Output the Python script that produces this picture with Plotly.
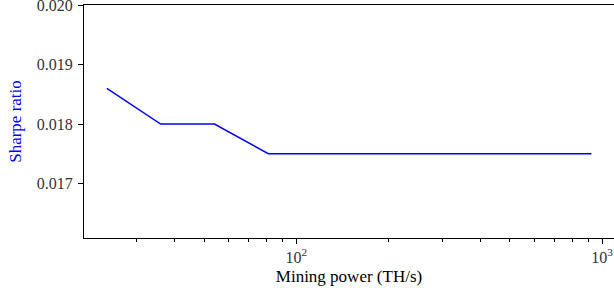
import math
import plotly.graph_objects as go

# Data
mining_power = [24, 36, 54, 81, 121.5, 182, 273, 410, 615, 923]
sharpe_ratio = [0.0186, 0.0180, 0.0180, 0.0175, 0.0175, 0.0175, 0.0175, 0.0175, 0.0175, 0.0175]

x_major_vals = [100, 1000]
x_major_text = ["10<sup>2</sup>", "10<sup>3</sup>"]
x_minor_vals = [20, 30, 40, 50, 60, 70, 80, 90, 200, 300, 400, 500, 600, 700, 800, 900]
y_tick_vals = [0.017, 0.018, 0.019, 0.020]
y_tick_text = ["0.017", "0.018", "0.019", "0.020"]

FONT = "Liberation Serif"

fig = go.Figure()
fig.add_trace(go.Scatter(
    x=mining_power, y=sharpe_ratio, mode="lines",
    line=dict(color="#0000ff", width=1.5), showlegend=False,
))

fig.update_layout(
    width=614, height=290,
    margin=dict(l=84, r=0, t=5, b=52),
    paper_bgcolor="white", plot_bgcolor="white",
    font=dict(family=FONT, size=16, color="#333"),
    xaxis=dict(
        type="log", range=[1.3055, 3.0392], automargin=False,
        showline=True, linecolor="black", linewidth=1, mirror=True,
        showgrid=False, zeroline=False, ticklabeloverflow="allow",
        ticks="outside", ticklen=5, tickwidth=1, tickcolor="black",
        tickmode="array", tickvals=x_major_vals, ticktext=x_major_text,
        minor=dict(tickmode="array", tickvals=x_minor_vals, ticks="outside",
                   ticklen=3, tickwidth=1, tickcolor="black", showgrid=False),
        title=dict(text="Mining power (TH/s)", font=dict(family=FONT, size=17, color="black"), standoff=4),
    ),
    yaxis=dict(
        range=[0.01608, 0.020005], automargin=False,
        showline=True, linecolor="black", linewidth=1, mirror=False,
        showgrid=False, zeroline=False, ticklabeloverflow="allow",
        ticks="outside", ticklen=5, tickwidth=1, tickcolor="black",
        ticklabelstandoff=2,
        tickmode="array", tickvals=y_tick_vals, ticktext=y_tick_text,
        title=dict(text="Sharpe ratio", font=dict(family=FONT, size=17, color="#0000ff"), standoff=10),
    ),
)

fig.write_html(
    "out.html",
    config={"displayModeBar": False},
    post_script="document.body.style.margin='0';document.body.style.overflow='hidden';",
)
